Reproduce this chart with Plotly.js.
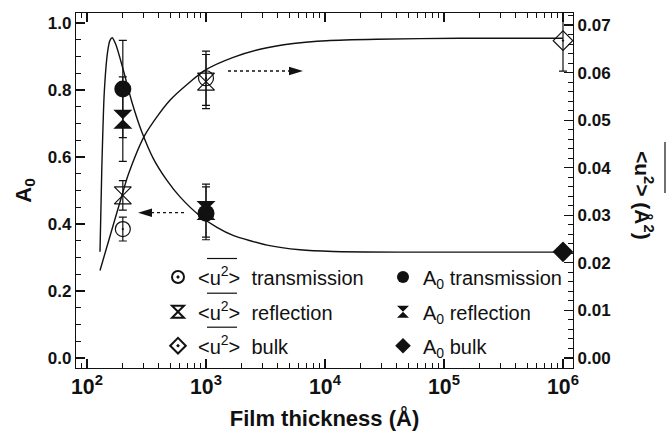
<!DOCTYPE html>
<html>
<head>
<meta charset="utf-8">
<script src="https://cdn.plot.ly/plotly-3.0.1.min.js"></script>
<style>
  html, body { margin: 0; padding: 0; background: #fff; }
  #chart { width: 667px; height: 438px; }
</style>
</head>
<body>
<div id="chart"></div>
<script>
// Fitted curves (thickness in Å)
const fitA0X = [128.6, 133, 139.8, 149, 156, 163, 175, 200, 238, 288, 360, 468, 605, 891, 1236, 1687, 3258, 6166, 11670, 42660, 1000000];
const fitA0Y = [0.317, 0.556, 0.795, 0.914, 0.948, 0.956, 0.935, 0.865, 0.765, 0.676, 0.596, 0.531, 0.481, 0.424, 0.390, 0.366, 0.337, 0.323, 0.318, 0.316, 0.316];

const fitU2X = [128.6, 162, 200, 222, 307, 498, 1000, 1694, 2845, 5420, 10330, 27160, 136000, 1000000];
const fitU2Y = [0.0184, 0.0270, 0.0348, 0.0385, 0.0469, 0.0542, 0.0606, 0.0632, 0.0649, 0.0661, 0.0667, 0.0670, 0.0672, 0.0672];

// Measured points: A0 (left axis)
const a0TransX = [200, 1000];
const a0TransY = [0.803, 0.432];
const a0TransErr = [0.145, 0.079];

const a0ReflX = [200, 1000];
const a0ReflY = [0.713, 0.440];
const a0ReflErr = [0.126, 0.079];

const a0BulkX = [1000000];
const a0BulkY = [0.317];

// Measured points: <u^2> in Å^2 (right axis)
const u2TransX = [200, 1000];
const u2TransY = [0.0271, 0.0588];
const u2TransErr = [0.0025, 0.0057];

const u2ReflX = [200, 1000];
const u2ReflY = [0.0342, 0.0581];
const u2ReflErr = [0.0031, 0.0057];

const u2BulkX = [1000000];
const u2BulkY = [0.0667];
const u2BulkErr = [0.0064];

// Legend labels
const U2 = '&lt;u<sup>2</sup>&gt;\u00a0 ';
const A0 = 'A<sub>0</sub> ';
const labels = {
  u2Trans: U2 + 'transmission', a0Trans: A0 + 'transmission',
  u2Refl: U2 + 'reflection',    a0Refl: A0 + 'reflection',
  u2Bulk: U2 + 'bulk',          a0Bulk: A0 + 'bulk'
};

// Plot area in pixels (for placing decorations in paper coordinates)
const L = 76, R = 573, T = 13, B = 368;
const px = v => (v - L) / (R - L);
const py = v => (B - v) / (B - T);

const FONT = 'Liberation Sans, Arial, Helvetica, sans-serif';
const ink = '#111';

function errBar(arr) {
  return { type: 'data', array: arr, visible: true, color: ink, thickness: 1.2, width: 4 };
}

const fitLine = { color: ink, width: 1.4, shape: 'spline', smoothing: 0.7 };

const traces = [
  { x: fitA0X, y: fitA0Y, yaxis: 'y', mode: 'lines', line: fitLine, showlegend: false, hoverinfo: 'skip' },
  { x: fitU2X, y: fitU2Y, yaxis: 'y2', mode: 'lines', line: fitLine, showlegend: false, hoverinfo: 'skip' },

  { name: labels.u2Trans, legend: 'legend', x: u2TransX, y: u2TransY, yaxis: 'y2', mode: 'markers', error_y: errBar(u2TransErr),
    marker: { symbol: 'circle-open-dot', size: 15, color: ink, line: { width: 1.2, color: ink } } },
  { name: labels.a0Trans, legend: 'legend2', x: a0TransX, y: a0TransY, yaxis: 'y', mode: 'markers', error_y: errBar(a0TransErr),
    marker: { symbol: 'circle', size: 17, color: ink } },
  { name: labels.u2Refl, legend: 'legend3', x: u2ReflX, y: u2ReflY, yaxis: 'y2', mode: 'markers', error_y: errBar(u2ReflErr),
    marker: { symbol: 'hourglass-open', size: 17, color: ink, line: { width: 1.2, color: ink } } },
  { name: labels.a0Refl, legend: 'legend4', x: a0ReflX, y: a0ReflY, yaxis: 'y', mode: 'markers', error_y: errBar(a0ReflErr),
    marker: { symbol: 'hourglass', size: 19, color: ink } },
  { name: labels.u2Bulk, legend: 'legend5', x: u2BulkX, y: u2BulkY, yaxis: 'y2', mode: 'markers', error_y: errBar(u2BulkErr),
    marker: { symbol: 'diamond-open-dot', size: 15, color: ink, line: { width: 1.2, color: ink } } },
  { name: labels.a0Bulk, legend: 'legend6', x: a0BulkX, y: a0BulkY, yaxis: 'y', mode: 'markers',
    marker: { symbol: 'diamond', size: 16, color: ink } }
];

function legendAt(xpx, ypx) {
  return {
    x: px(xpx), y: py(ypx), xanchor: 'left', yanchor: 'middle',
    bgcolor: 'rgba(0,0,0,0)', borderwidth: 0, itemsizing: 'constant',
    font: { family: FONT, size: 20, color: ink }, orientation: 'v',
    itemclick: false, itemdoubleclick: false
  };
}

const rows = [277, 311.7, 345.7];
const col1 = 158, col2 = 383;

const axisCommon = {
  showgrid: false, zeroline: false, showline: true, linecolor: ink, linewidth: 1.2,
  ticks: 'inside', ticklen: 9, tickwidth: 1.2, tickcolor: ink,
  tickfont: { family: FONT, size: 17, color: ink, weight: 'bold' }
};

const shapes = [
  // dotted arrow pointing to the left axis
  { type: 'line', xref: 'paper', yref: 'paper', x0: px(151), x1: px(184), y0: py(212.7), y1: py(212.7), line: { color: ink, width: 1.3, dash: 'dot' } },
  { type: 'path', xref: 'paper', yref: 'paper', fillcolor: ink, line: { width: 0 },
    path: `M ${px(138)} ${py(212.7)} L ${px(152)} ${py(208.5)} L ${px(152)} ${py(216.9)} Z` },
  // dotted arrow pointing to the right axis
  { type: 'line', xref: 'paper', yref: 'paper', x0: px(228), x1: px(291), y0: py(71), y1: py(71), line: { color: ink, width: 1.3, dash: 'dot' } },
  { type: 'path', xref: 'paper', yref: 'paper', fillcolor: ink, line: { width: 0 },
    path: `M ${px(303)} ${py(71)} L ${px(289)} ${py(66.8)} L ${px(289)} ${py(75.2)} Z` },
  // overbars on <u^2>
  ...rows.map(r => ({ type: 'line', xref: 'paper', yref: 'paper', x0: px(207), x1: px(237), y0: py(r - 18.5), y1: py(r - 18.5), line: { color: ink, width: 1.2 } })),
  { type: 'line', xref: 'paper', yref: 'paper', x0: px(665), x1: px(665), y0: py(142), y1: py(193), line: { color: ink, width: 1.2 } }
];

const layout = {
  width: 667, height: 438,
  margin: { l: L, r: 667 - R, t: T, b: 438 - B, pad: 0 },
  paper_bgcolor: '#fff', plot_bgcolor: '#fff',
  font: { family: FONT, color: ink },
  xaxis: Object.assign({}, axisCommon, {
    type: 'log', range: [1.9076, 6.084], dtick: 1, exponentformat: 'power', mirror: 'ticks',
    minor: { ticks: 'inside', ticklen: 5, tickwidth: 1, tickcolor: ink, dtick: 'D1', showgrid: false },
    title: { text: 'Film thickness (Å)', font: { family: FONT, size: 22, color: ink, weight: 'bold' }, standoff: 12 }
  }),
  yaxis: Object.assign({}, axisCommon, {
    range: [-0.0299, 1.0299], tick0: 0, dtick: 0.2, tickformat: '.1f',
    minor: { ticks: 'inside', ticklen: 5, tickwidth: 1, tickcolor: ink, dtick: 0.05, showgrid: false },
    title: { text: 'A<sub>0</sub>', font: { family: FONT, size: 22, color: ink, weight: 'bold' }, standoff: 10 }
  }),
  yaxis2: Object.assign({}, axisCommon, {
    overlaying: 'y', side: 'right', anchor: 'x',
    range: [-0.0021, 0.07252], tick0: 0, dtick: 0.01, tickformat: '.2f',
    minor: { ticks: 'inside', ticklen: 5, tickwidth: 1, tickcolor: ink, dtick: 0.002, showgrid: false }
  }),
  legend: legendAt(col1, rows[0]),
  legend2: legendAt(col2, rows[0]),
  legend3: legendAt(col1, rows[1]),
  legend4: legendAt(col2, rows[1]),
  legend5: legendAt(col1, rows[2]),
  legend6: legendAt(col2, rows[2]),
  shapes: shapes,
  annotations: [
    { xref: 'paper', yref: 'paper', x: px(644), y: py(195), xanchor: 'center', yanchor: 'middle', textangle: 90, showarrow: false,
      text: '&lt;u<sup>2</sup>&gt; (Å<sup>2</sup>)', font: { family: FONT, size: 21, color: ink, weight: 'bold' } }
  ]
};

Plotly.newPlot('chart', traces, layout, { staticPlot: true, displayModeBar: false });
</script>
</body>
</html>
